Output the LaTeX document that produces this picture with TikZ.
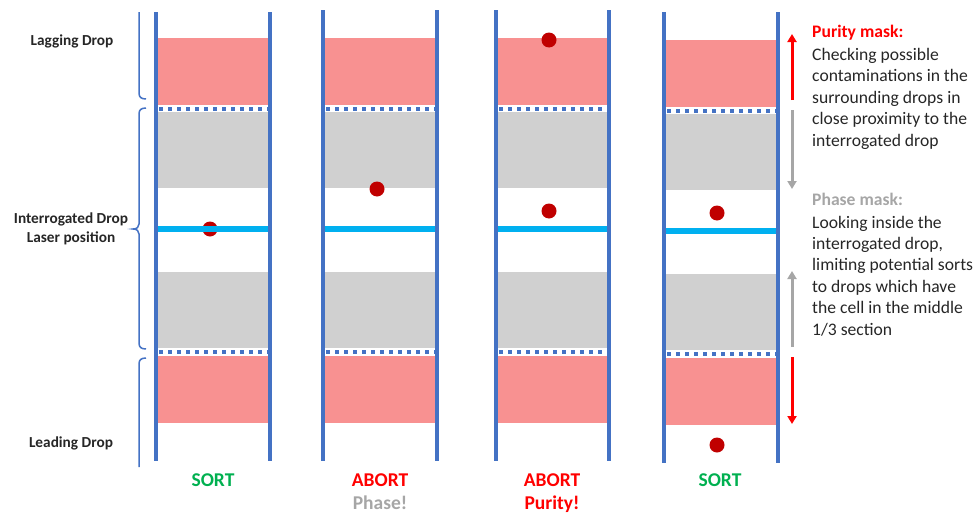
\documentclass[tikz,border=0pt]{standalone}
\usepackage{fontspec}
\setmainfont{Carlito}
\usetikzlibrary{arrows.meta}
\definecolor{wallblue}{RGB}{68,114,196}
\definecolor{lasercyan}{RGB}{0,176,240}
\definecolor{maskred}{RGB}{248,145,145}
\definecolor{maskgray}{RGB}{208,208,208}
\definecolor{dotred}{RGB}{192,0,0}
\definecolor{sortgreen}{RGB}{0,176,80}
\definecolor{abortred}{RGB}{255,0,0}
\definecolor{phasegray}{RGB}{166,166,166}
\definecolor{txt}{RGB}{38,38,38}
\begin{document}
\begin{tikzpicture}[x=1pt,y=-1pt,
  wall/.style={line width=4pt,draw=wallblue},
  laserline/.style={line width=6pt,draw=lasercyan},
  dotline/.style={line width=4pt,draw=wallblue,dash pattern=on 4pt off 5pt},
  cell/.style={fill=dotred},
  brace/.style={line width=1.5pt,draw=wallblue},
  leftlab/.style={font=\fontsize{15.3}{17}\selectfont\bfseries,text=txt,anchor=base,inner sep=0pt},
  botlab/.style={font=\fontsize{19.5}{22}\selectfont\bfseries,anchor=base,inner sep=0pt},
  rt/.style={font=\fontsize{17.6}{20}\selectfont,text=txt,anchor=base west,inner sep=0pt},
  redarrow/.style={line width=3pt,draw=abortred,-{Triangle[width=9pt,length=8pt]}},
  grayarrow/.style={line width=3pt,draw=phasegray,-{Triangle[width=9pt,length=8pt]}}]
\useasboundingbox (0,0) rectangle (977,514);
% masks
\foreach \xl/\xr/\d in {156/270/0, 323/437/0, 496/609/0, 664/778/2} {
  \fill[maskred] (\xl,38+\d) rectangle (\xr,105+\d);
  \fill[maskgray] (\xl,112+\d) rectangle (\xr,188+\d);
  \fill[maskgray] (\xl,272+\d) rectangle (\xr,348+\d);
  \fill[maskred] (\xl,356+\d) rectangle (\xr,423+\d);
  \draw[dotline] (\xl+3,109+\d) -- (\xr-2,109+\d);
  \draw[dotline] (\xl+3,352+\d) -- (\xr-2,352+\d);
}
% cells
\fill[cell] (210,229) circle (7.5);
\fill[cell] (377,189) circle (7.5);
\fill[cell] (549,40) circle (7.5);
\fill[cell] (549,211) circle (7.5);
\fill[cell] (717,213) circle (7.5);
\fill[cell] (717,445) circle (7.5);
% laser and walls
\foreach \xl/\xr/\d/\t in {156/270/0/12, 323/437/0/10, 496/609/0/10, 664/778/2/12} {
  \draw[laserline] (\xl,229+\d) -- (\xr,229+\d);
  \draw[wall] (\xl,\t) -- (\xl,461+\d);
  \draw[wall] (\xr,\t) -- (\xr,461+\d);
}
% braces
\draw[brace] (139,12) -- (139,93) .. controls (139,97) and (141,99) .. (146,99);
\draw[brace] (146,108) .. controls (141,108) and (139,110) .. (139,114) -- (139,224)
  .. controls (139,227) and (137,229) .. (133,229)
  .. controls (137,229) and (139,231) .. (139,234) -- (139,343)
  .. controls (139,347) and (141,349) .. (146,349);
\draw[brace] (146,358) .. controls (141,358) and (139,360) .. (139,364) -- (139,467);
% left labels
\node[leftlab] (lag) at (72,45) {Lagging Drop};
\node[leftlab] (int) at (71,223) {Interrogated Drop};
\node[leftlab] (las) at (71,242) {Laser position};
\node[leftlab] (lead) at (71,447) {Leading Drop};
% bottom labels
\node[botlab,text=sortgreen] (s1) at (213,486) {SORT};
\node[botlab,text=abortred] (a2) at (380,486) {ABORT};
\node[botlab,text=phasegray] (p2) at (380,509) {Phase!};
\node[botlab,text=abortred] (a3) at (552,486) {ABORT};
\node[botlab,text=abortred] (p3) at (552,509) {Purity!};
\node[botlab,text=sortgreen] (s4) at (720,486) {SORT};
% arrows
\coordinate (ra1) at (792,100); \coordinate (ra2) at (792,34);
\coordinate (ga1) at (792,110); \coordinate (ga2) at (792,189);
\coordinate (gb1) at (792,347); \coordinate (gb2) at (792,271);
\coordinate (rb1) at (792,357); \coordinate (rb2) at (792,424);
\draw[redarrow] (ra1) -- (ra2);
\draw[grayarrow] (ga1) -- (ga2);
\draw[grayarrow] (gb1) -- (gb2);
\draw[redarrow] (rb1) -- (rb2);
% right text
\node[rt,text=abortred,font=\fontsize{17.6}{20}\selectfont\bfseries] (pm) at (812,37) {Purity mask:};
\foreach \t [count=\i from 0] in {Checking possible, contaminations in the, surrounding drops in, close proximity to the, interrogated drop} {
  \node[rt] (pu\i) at (812,60+21.6*\i) {\t};
}
\node[rt,text=phasegray,font=\fontsize{17.6}{20}\selectfont\bfseries] (phm) at (812,205) {Phase mask:};
\foreach \t [count=\i from 0] in {Looking inside the, {interrogated drop,}, limiting potential sorts, to drops which have, the cell in the middle, 1/3 section} {
  \node[rt] (ph\i) at (812,228+21.4*\i) {\t};
}
\end{tikzpicture}
\end{document}
